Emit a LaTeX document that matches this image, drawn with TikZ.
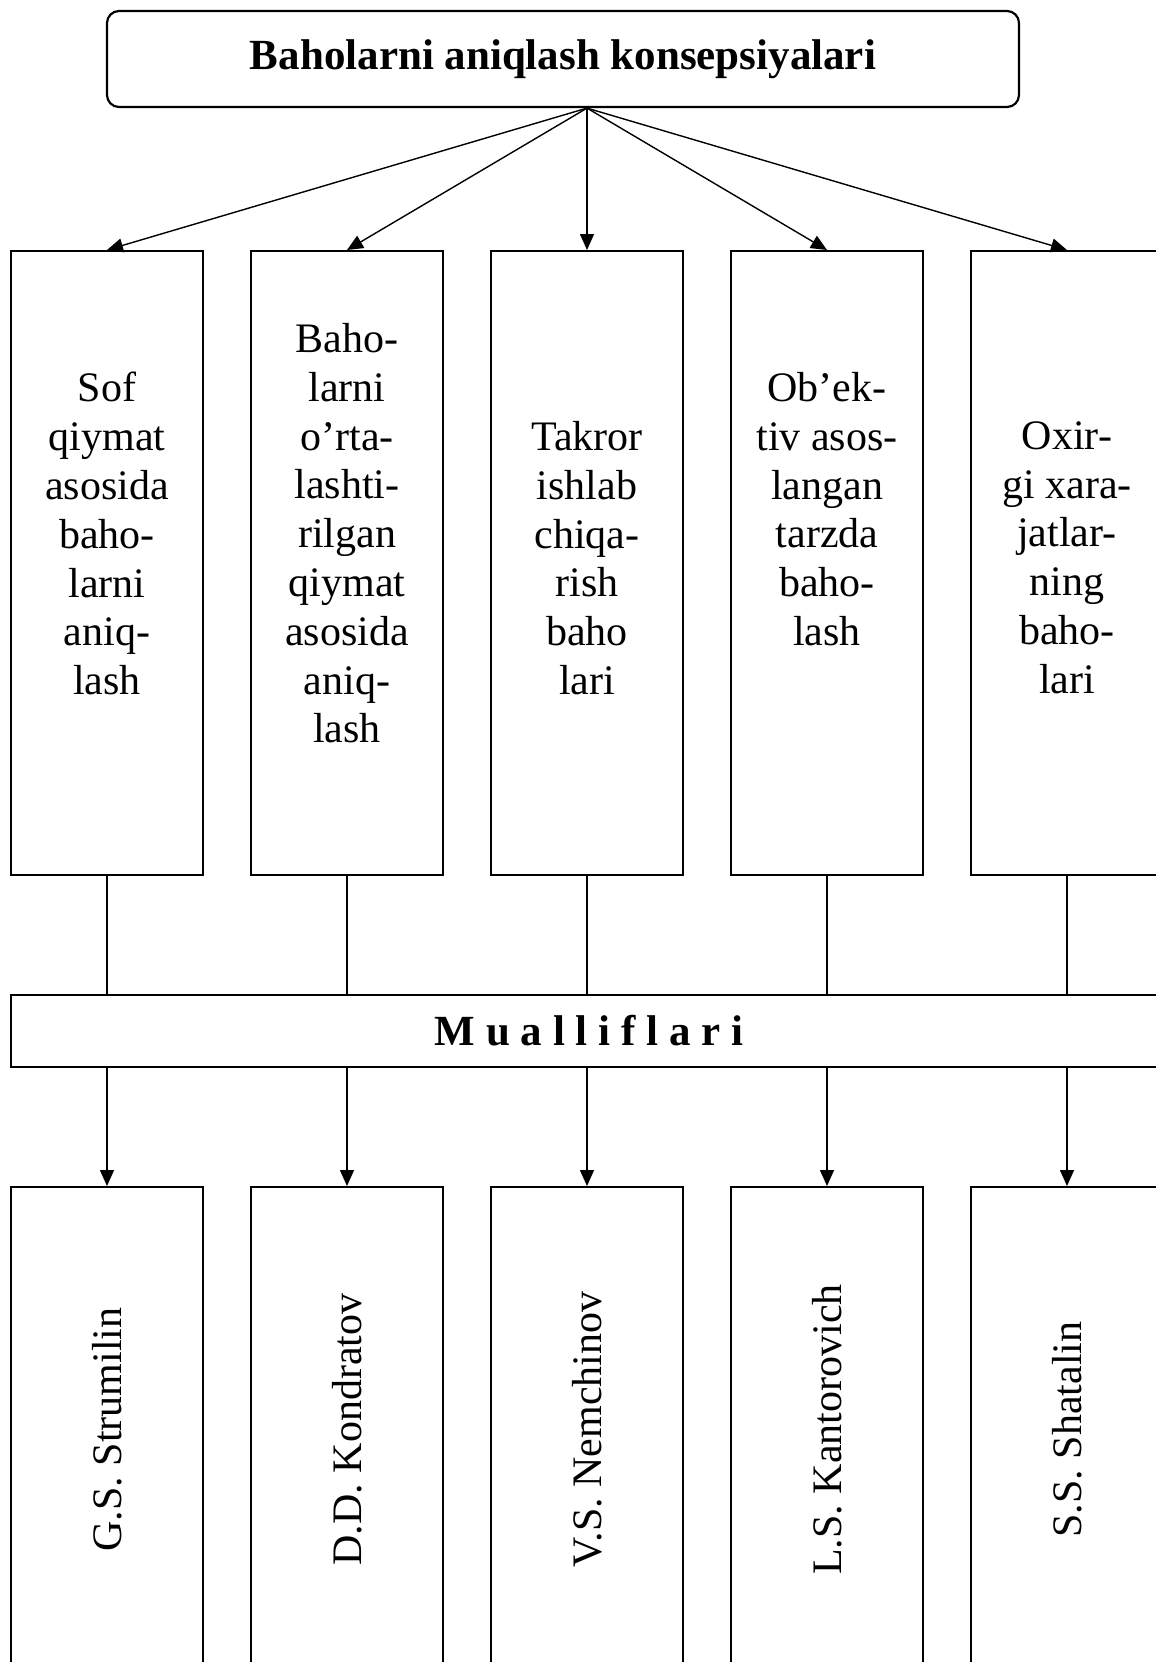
\documentclass[tikz,border=0pt]{standalone}
\usepackage{fontspec}
\setmainfont{Liberation Serif}
\newfontfamily\trackfont[LetterSpace=25]{Liberation Serif}
\usetikzlibrary{arrows.meta,positioning,calc}
\tikzset{
  headbox/.style={draw,rounded corners=6pt,line width=1.1pt,minimum width=456pt,minimum height=48pt,
    inner sep=0pt,font=\fontsize{21.5}{25}\selectfont\bfseries},
  colbox/.style={draw,line width=1pt,minimum width=96pt,minimum height=312pt},
  coltext/.style={align=center,inner sep=0pt,anchor=north,font=\fontsize{21}{24.4}\selectfont},
  namebox/.style={draw,line width=1pt,rotate=90,minimum width=242.5pt,minimum height=96pt,
    inner sep=0pt,font=\fontsize{21}{24.4}\selectfont},
  barbox/.style={draw,line width=1.3pt,minimum width=578pt,minimum height=36pt,inner sep=0pt,
    font=\fontsize{21.5}{25}\selectfont\trackfont\bfseries},
  downarrow/.style={-{Triangle[length=8pt,width=7pt]},line width=0.7pt},
  joinline/.style={line width=0.7pt}
}

\begin{document}
\begin{tikzpicture}[x=0.5pt,y=-0.5pt]
  \useasboundingbox (0,0) rectangle (1156,1662);
  \clip (0,0) rectangle (1156,1662);
  % top box
  \node[headbox] (konsep) at (563,59) {Baholarni aniqlash konsepsiyalari};
  % concept columns
  \node[colbox] (k1) at (107,563) {};
  \node[colbox] (k2) at (347,563) {};
  \node[colbox] (k3) at (587,563) {};
  \node[colbox] (k4) at (827,563) {};
  \node[colbox] (k5) at (1067,563) {};
  \node[coltext] (t1) at (107,372) {Sof\\qiymat\\asosida\\baho-\\larni\\aniq-\\lash};
  \node[coltext] (t2) at (347,323) {Baho-\\larni\\o’rta-\\lashti-\\rilgan\\qiymat\\asosida\\aniq-\\lash};
  \node[coltext] (t3) at (587,421) {Takror\\ishlab\\chiqa-\\rish\\baho\\lari};
  \node[coltext] (t4) at (827,372) {Ob’ek-\\tiv asos-\\langan\\tarzda\\baho-\\lash};
  \node[coltext] (t5) at (1067,421) {Oxir-\\gi xara-\\jatlar-\\ning\\baho-\\lari};
  \draw[downarrow] (konsep.south -| k3) -- (k1.north); \draw[downarrow] (konsep.south -| k3) -- (k2.north);
  \draw[downarrow] (konsep.south -| k3) -- (k3.north); \draw[downarrow] (konsep.south -| k3) -- (k4.north);
  \draw[downarrow] (konsep.south -| k3) -- (k5.north);
  % authors bar
  \node[barbox] (mual) at (589,1031) {Mualliflari};
  \draw[joinline] (k1.south) -- (k1.south |- mual.north); \draw[joinline] (k2.south) -- (k2.south |- mual.north);
  \draw[joinline] (k3.south) -- (k3.south |- mual.north); \draw[joinline] (k4.south) -- (k4.south |- mual.north);
  \draw[joinline] (k5.south) -- (k5.south |- mual.north);
  % author names
  \node[namebox] (n1) at (107,1429.5) {G.S. Strumilin};
  \node[namebox] (n2) at (347,1429.5) {D.D. Kondratov};
  \node[namebox] (n3) at (587,1429.5) {V.S. Nemchinov};
  \node[namebox] (n4) at (827,1429.5) {L.S. Kantorovich};
  \node[namebox] (n5) at (1067,1429.5) {S.S. Shatalin};
  \draw[downarrow] (mual.south -| n1) -- (n1.east); \draw[downarrow] (mual.south -| n2) -- (n2.east);
  \draw[downarrow] (mual.south -| n3) -- (n3.east); \draw[downarrow] (mual.south -| n4) -- (n4.east);
  \draw[downarrow] (mual.south -| n5) -- (n5.east);
\end{tikzpicture}
\end{document}
